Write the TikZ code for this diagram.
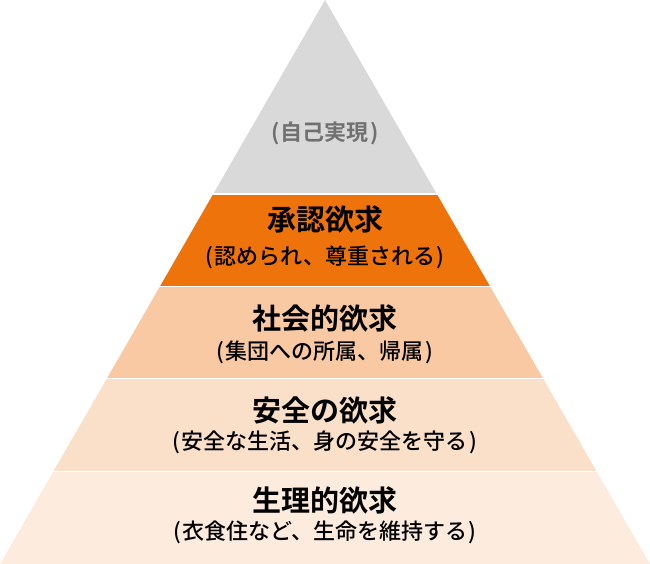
\documentclass[tikz,border=0pt]{standalone}
\usepackage{fontspec}
\newfontfamily\jpm{Noto Sans CJK JP Medium}
\newfontfamily\jpb{Noto Sans CJK JP Bold}
\definecolor{bgray}{RGB}{217,217,217}
\definecolor{borange}{RGB}{237,115,10}
\definecolor{bthree}{RGB}{248,201,162}
\definecolor{bfour}{RGB}{251,224,201}
\definecolor{bfive}{RGB}{253,236,222}
\definecolor{tgray}{RGB}{112,112,112}
\newcommand{\lp}{(\kern1.5pt}
\newcommand{\rp}{\kern1.5pt)}
\tikzset{
  titletext/.style={font=\jpb\fontsize{29}{32}\selectfont, text=black, inner sep=0pt},
  subtext/.style={font=\jpm\fontsize{22}{25}\selectfont, text=black, inner sep=0pt},
}
\begin{document}
\begin{tikzpicture}[x=1pt,y=-1pt]
\useasboundingbox (0,0) rectangle (650,564);
\begin{scope}
\clip (325,0) -- (650,564) -- (0,564) -- cycle;
\fill[bgray] (0,0) rectangle (650,193.5);
\fill[borange] (0,195) rectangle (650,285.5);
\fill[bthree] (0,287) rectangle (650,377.5);
\fill[bfour] (0,379) rectangle (650,470.5);
\fill[bfive] (0,472) rectangle (650,564);
\end{scope}
\node[subtext, font=\jpb\fontsize{22}{25}\selectfont, text=tgray] (self) at (325,133) {\lp 自己実現\rp};
\node[titletext] (t2) at (325,219) {承認欲求};
\node[subtext] (s2) at (325,257) {\lp 認められ、尊重される\rp};
\node[titletext] (t3) at (325,318) {社会的欲求};
\node[subtext] (s3) at (325,352) {\lp 集団への所属、帰属\rp};
\node[titletext] (t4) at (325,410) {安全の欲求};
\node[subtext] (s4) at (325,442) {\lp 安全な生活、身の安全を守る\rp};
\node[titletext] (t5) at (325,500) {生理的欲求};
\node[subtext] (s5) at (325,532) {\lp 衣食住など、生命を維持する\rp};
\end{tikzpicture}
\end{document}
